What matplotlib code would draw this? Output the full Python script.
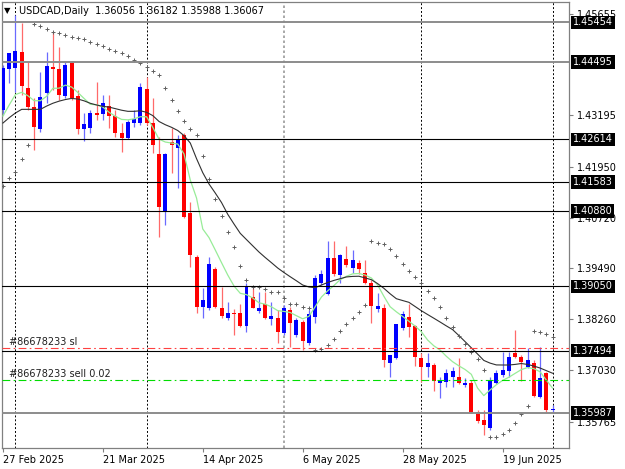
import matplotlib
matplotlib.use("Agg")
import matplotlib.pyplot as plt
import matplotlib.transforms as mtransforms
import numpy as np

# USDCAD daily bars, 27 Feb 2025 .. 1 Jul 2025
opens = [1.43327, 1.44314, 1.44338, 1.44741, 1.43868, 1.43393, 1.42874, 1.43732, 1.44377, 1.44329,
         1.43667, 1.44460, 1.43667, 1.42860, 1.42891, 1.43247, 1.43230, 1.43424, 1.43182, 1.42777,
         1.42641, 1.43019, 1.43005, 1.43837, 1.43005, 1.42261, 1.40862, 1.42544, 1.42399, 1.42721,
         1.40823, 1.39771, 1.38544, 1.38520, 1.39466, 1.38520, 1.38278, 1.38414, 1.38399, 1.38098,
         1.38801, 1.38462, 1.38617, 1.38261, 1.38278, 1.37914, 1.38479, 1.37873, 1.38196, 1.37686,
         1.38317, 1.39127, 1.38867, 1.39732, 1.39327, 1.39708, 1.39490, 1.39626, 1.39369, 1.39141,
         1.38496, 1.38520, 1.37187, 1.37308, 1.38035, 1.38317, 1.38091, 1.37308, 1.37105, 1.37146,
         1.36717, 1.36741, 1.36848, 1.36862, 1.36661, 1.36702, 1.36014, 1.35812, 1.35612, 1.36702,
         1.36904, 1.37008, 1.37429, 1.37333, 1.37105, 1.37187, 1.36378, 1.36945, 1.36056]
highs = [1.44418, 1.44716, 1.45630, 1.45429, 1.44498, 1.43618, 1.44256, 1.44741, 1.45226, 1.44862,
         1.44498, 1.44515, 1.43812, 1.43247, 1.43327, 1.44013, 1.43691, 1.43691, 1.43327, 1.43005,
         1.43085, 1.43327, 1.43975, 1.44135, 1.43611, 1.42680, 1.42278, 1.42884, 1.42721, 1.42763,
         1.41104, 1.39812, 1.39005, 1.39771, 1.39529, 1.39044, 1.38680, 1.38496, 1.38624, 1.39134,
         1.39005, 1.38923, 1.38923, 1.38680, 1.38479, 1.38600, 1.38559, 1.38278, 1.38237, 1.38479,
         1.39327, 1.39449, 1.40159, 1.40159, 1.39837, 1.40038, 1.39934, 1.39691, 1.39691, 1.39207,
         1.38884, 1.38624, 1.37388, 1.38140, 1.38455, 1.38624, 1.38115, 1.37429, 1.37444, 1.37201,
         1.36862, 1.37041, 1.37090, 1.37308, 1.36824, 1.36782, 1.36055, 1.36055, 1.36862, 1.37025,
         1.37469, 1.37469, 1.37995, 1.37388, 1.37551, 1.37267, 1.37590, 1.36984, 1.36182]
lows = [1.43206, 1.43982, 1.43771, 1.43691, 1.43327, 1.42358, 1.42801, 1.43504, 1.43812, 1.43570,
        1.43611, 1.43570, 1.42746, 1.42583, 1.42763, 1.43085, 1.43085, 1.42884, 1.42680, 1.42317,
        1.42617, 1.42923, 1.42964, 1.42964, 1.42278, 1.40256, 1.40540, 1.41793, 1.41429, 1.40702,
        1.39529, 1.38399, 1.38278, 1.38479, 1.38520, 1.38278, 1.38237, 1.37873, 1.38074, 1.37953,
        1.38520, 1.38399, 1.38254, 1.38115, 1.37686, 1.37873, 1.37589, 1.37832, 1.37509, 1.37631,
        1.38157, 1.39085, 1.38843, 1.39304, 1.39127, 1.39529, 1.39369, 1.39352, 1.39109, 1.38157,
        1.38438, 1.37090, 1.36848, 1.37284, 1.37994, 1.37832, 1.37121, 1.36741, 1.36862, 1.36523,
        1.36338, 1.36620, 1.36620, 1.36686, 1.36620, 1.35990, 1.35747, 1.35449, 1.35570, 1.36686,
        1.36862, 1.36862, 1.37308, 1.36765, 1.37066, 1.36378, 1.36338, 1.35990, 1.35988]
closes = [1.44338, 1.44702, 1.44765, 1.43909, 1.43407, 1.42908, 1.43635, 1.44394, 1.44329, 1.43691,
          1.44418, 1.43611, 1.42860, 1.42988, 1.43262, 1.43213, 1.43490, 1.43182, 1.42763, 1.42656,
          1.43044, 1.43102, 1.43892, 1.43005, 1.42479, 1.40969, 1.42261, 1.42479, 1.42600, 1.40741,
          1.39812, 1.38544, 1.38721, 1.39587, 1.38544, 1.38334, 1.38399, 1.38382, 1.38091, 1.39061,
          1.38535, 1.38535, 1.38278, 1.38341, 1.37953, 1.38535, 1.38157, 1.38237, 1.37735, 1.38382,
          1.39248, 1.39352, 1.39747, 1.39352, 1.39812, 1.39570, 1.39691, 1.39466, 1.39141, 1.38576,
          1.38576, 1.37267, 1.37388, 1.38140, 1.38375, 1.38060, 1.37347, 1.37105, 1.37201, 1.36765,
          1.36765, 1.36959, 1.37000, 1.36702, 1.36717, 1.36014, 1.35796, 1.35691, 1.36782, 1.36945,
          1.37025, 1.37347, 1.37347, 1.37226, 1.37267, 1.36395, 1.36824, 1.36055, 1.36067]

# indicator values
ma_slow = [1.43012, 1.43141, 1.43255, 1.43344, 1.43344, 1.43344, 1.43344, 1.43424, 1.43492, 1.43543,
           1.43582, 1.43609, 1.43594, 1.43550, 1.43490, 1.43449, 1.43417, 1.43398, 1.43361, 1.43323,
           1.43296, 1.43296, 1.43310, 1.43272, 1.43192, 1.43049, 1.42971, 1.42908, 1.42830, 1.42707,
           1.42527, 1.42149, 1.41807, 1.41534, 1.41315, 1.41085, 1.40799, 1.40564, 1.40338, 1.40186,
           1.40035, 1.39885, 1.39752, 1.39626, 1.39497, 1.39388, 1.39286, 1.39187, 1.39085, 1.39037,
           1.39020, 1.39085, 1.39146, 1.39197, 1.39238, 1.39281, 1.39294, 1.39298, 1.39257, 1.39214,
           1.39119, 1.39005, 1.38872, 1.38753, 1.38709, 1.38666, 1.38564, 1.38462, 1.38370, 1.38280,
           1.38188, 1.38094, 1.38004, 1.37861, 1.37713, 1.37563, 1.37412, 1.37257, 1.37192, 1.37148,
           1.37146, 1.37146, 1.37160, 1.37182, 1.37160, 1.37121, 1.37073, 1.37010, 1.36947]
ma_fast = [1.43182, 1.43449, 1.43703, 1.43757, 1.43674, 1.43553, 1.43553, 1.43660, 1.43853, 1.43858,
           1.43931, 1.43885, 1.43752, 1.43606, 1.43466, 1.43456, 1.43400, 1.43272, 1.43175, 1.43100,
           1.43090, 1.43114, 1.43165, 1.43165, 1.42906, 1.42620, 1.42552, 1.42527, 1.42503, 1.42261,
           1.41630, 1.41194, 1.40443, 1.40234, 1.39934, 1.39628, 1.39327, 1.39061, 1.38884, 1.38852,
           1.38770, 1.38654, 1.38620, 1.38557, 1.38464, 1.38445, 1.38418, 1.38341, 1.38266, 1.38326,
           1.38559, 1.38794, 1.38944, 1.39073, 1.39214, 1.39296, 1.39356, 1.39364, 1.39327, 1.39255,
           1.39085, 1.38811, 1.38559, 1.38435, 1.38324, 1.38207, 1.38089, 1.37953, 1.37752, 1.37611,
           1.37509, 1.37357, 1.37226, 1.37126, 1.37037, 1.36920, 1.36588, 1.36404, 1.36540, 1.36666,
           1.36772, 1.36848, 1.36942, 1.37034, 1.37085, 1.37058, 1.36983, 1.36782, 1.36588]
sar = [1.41485, 1.41672, 1.41832, 1.42132, 1.42479, 1.45412, 1.45364, 1.45291, 1.45226, 1.45187,
       1.45158, 1.45104, 1.45066, 1.45041, 1.44976, 1.44927, 1.44879, 1.44813, 1.44765, 1.44702,
       1.44636, 1.44540, 1.44460, 1.44377, 1.44280, 1.44176, 1.43853, 1.43570, 1.43303, 1.43061,
       1.42860, 1.42721, 1.42212, 1.41647, 1.41170, 1.40765, 1.40377, 1.39999, 1.39553, 1.39207,
       1.39044, 1.39029, 1.38981, 1.38923, 1.38923, 1.38770, 1.38624, 1.38624, 1.38559, 1.38528,
       1.37509, 1.37526, 1.37631, 1.37776, 1.37963, 1.38132, 1.38285, 1.38438, 1.38600, 1.40159,
       1.40111, 1.40079, 1.39958, 1.39788, 1.39602, 1.39432, 1.39272, 1.39127, 1.38947, 1.38762,
       1.38544, 1.38278, 1.38060, 1.37849, 1.37655, 1.37461, 1.37284, 1.37025, 1.35393, 1.35393,
       1.35473, 1.35577, 1.35740, 1.35958, 1.36157, 1.37970, 1.37946, 1.37904, 1.37817]

h_levels = [1.45454, 1.44495, 1.42614, 1.41583, 1.40880, 1.39050, 1.37494, 1.35987]
gray_levels = [1.45454, 1.44495, 1.35987]
sl_price = 1.37558
entry_price = 1.36782
price_ticks = [1.45655, 1.43195, 1.41950, 1.40720, 1.39490, 1.38260, 1.37030, 1.35765]
date_ticks = [0, 16, 32, 48, 64, 80]
date_labels = ["27 Feb 2025", "21 Mar 2025", "14 Apr 2025", "6 May 2025", "28 May 2025", "19 Jun 2025"]
month_starts = [2, 23, 45, 67, 88]
gray_separator = 45

plt.rcParams['font.family'] = 'DejaVu Sans'
plt.rcParams['font.size'] = 7

fig = plt.figure(figsize=(6.25, 4.69), dpi=100)
ax = fig.add_axes([0.0037, 0.0454, 0.9067, 0.9503])

o = np.array(opens)
h = np.array(highs)
l = np.array(lows)
c = np.array(closes)
x = np.arange(len(o))
up = c >= o
body_col = np.where(up, '#0000ff', '#ff0000')
wick_col = np.where(up, '#6a6aff', '#ff6a6a')

ax.vlines(x, l, h, colors=wick_col, lw=0.9, zorder=3)
body_h = np.maximum(np.abs(c - o), 0.00015)
ax.bar(x, body_h, bottom=np.minimum(o, c), width=0.64, color=body_col, lw=0, zorder=4)

ax.plot(x, ma_fast, color='#98ec98', lw=0.9, zorder=5)
ax.plot(x, ma_slow, color='#303030', lw=0.8, zorder=5)
ax.plot(x, sar, ls='none', marker='+', ms=3, mew=0.7, color='#606060', zorder=5)

# month separators
for m in month_starts:
    if m == gray_separator:
        ax.axvline(m, color='#9a9a9a', lw=1.2, ls=(0, (1.5, 1.5)), zorder=2)
    else:
        ax.axvline(m, color='#000000', lw=0.7, ls=(0, (2, 2)), zorder=2)

for lv in h_levels:
    if lv in gray_levels:
        ax.axhline(lv, color='#8c8c8c', lw=1.4, zorder=6)
    else:
        ax.axhline(lv, color='#000000', lw=0.8, zorder=6)
ax.axhline(sl_price, color='#ff4040', lw=0.8, ls=(0, (7, 3, 1.5, 3)), zorder=6)
ax.axhline(entry_price, color='#00dd00', lw=0.8, ls=(0, (7, 3, 1.5, 3)), zorder=6)

trans = mtransforms.blended_transform_factory(ax.transAxes, ax.transData)
ax.annotate("#86678233 sl", xy=(0.012, sl_price), xycoords=trans, xytext=(0, 1),
            textcoords='offset points', va='bottom', ha='left', color='#202020')
ax.annotate("#86678233 sell 0.02", xy=(0.012, entry_price), xycoords=trans, xytext=(0, 1),
            textcoords='offset points', va='bottom', ha='left', color='#202020')

# price labels of the horizontal lines
for lv in h_levels:
    ax.annotate(f"{lv:.5f}", xy=(1.007, lv), xycoords=trans, va='center', ha='left',
                color='white', annotation_clip=False, zorder=10,
                bbox=dict(boxstyle='square,pad=0.18', fc='black', ec='none'))

ax.text(0.0095, 0.982, "\u25bc", transform=ax.transAxes, fontsize=6, va='center', ha='center')
ax.text(0.0295, 0.98, "USDCAD,Daily  1.36056 1.36182 1.35988 1.36067",
        transform=ax.transAxes, va='center', ha='left', color='#000000')

ax.set_xlim(-0.1, 90.64)
ax.set_ylim(1.35141, 1.45946)

ax.yaxis.tick_right()
ax.set_yticks(price_ticks)
ax.set_yticklabels([f"{t:.5f}" for t in price_ticks])
ax.set_xticks(date_ticks)
ax.set_xticklabels(date_labels, ha='left')
ax.tick_params(axis='y', length=3, width=0.8, pad=2.5, color='#808080')
ax.tick_params(axis='x', length=3, width=0.8, pad=2, color='#808080')
for s in ax.spines.values():
    s.set_color('#808080')
    s.set_linewidth(0.9)

fig.savefig("out.png", dpi=100)
